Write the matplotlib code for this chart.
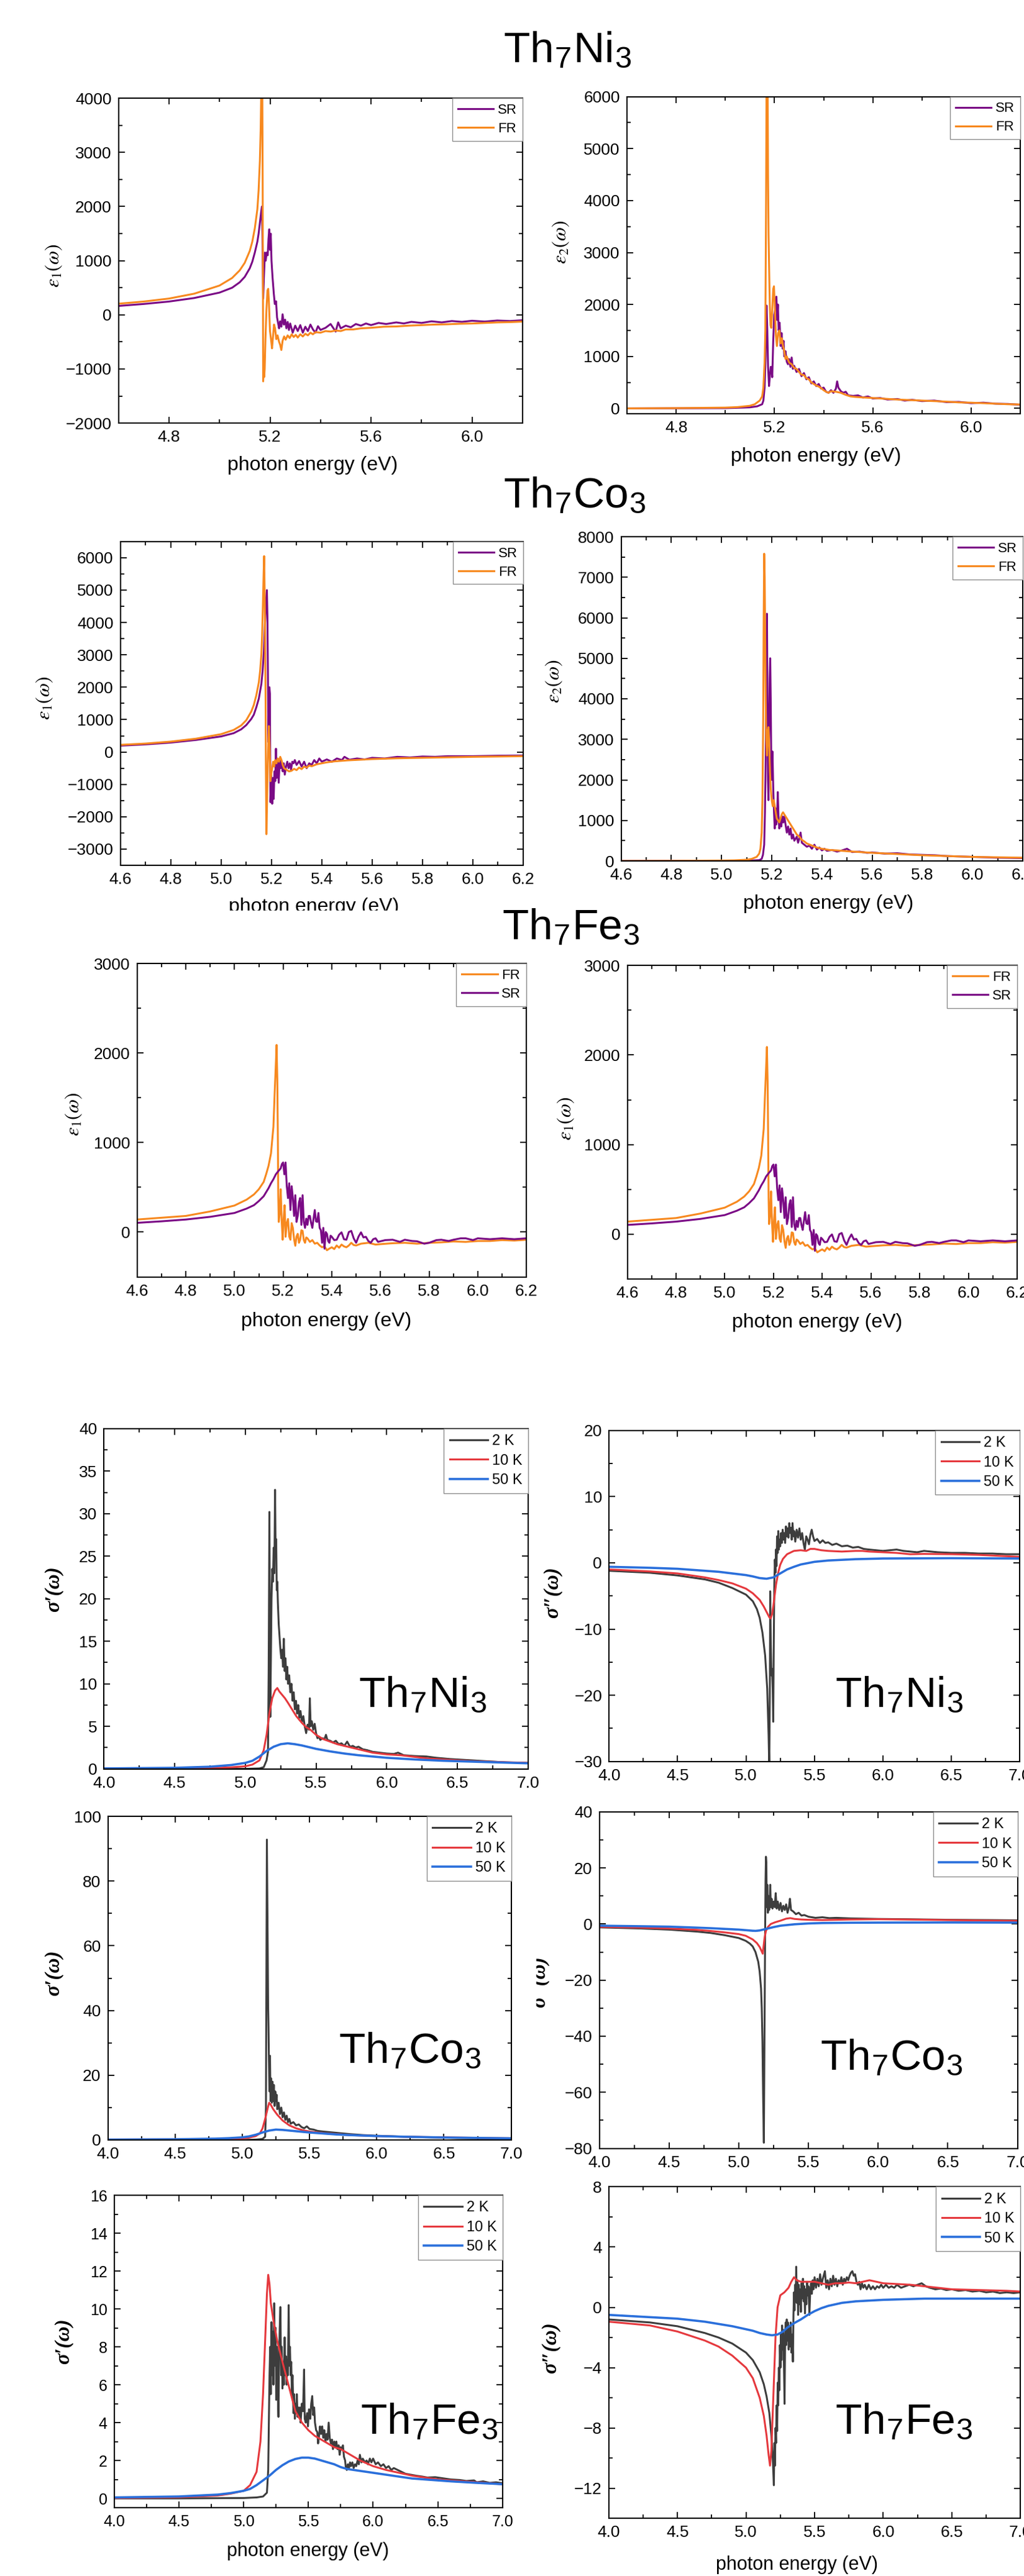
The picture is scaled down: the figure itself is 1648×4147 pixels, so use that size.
import numpy as np
import matplotlib.pyplot as plt
from matplotlib.ticker import MultipleLocator, FormatStrFormatter
from matplotlib.patches import Rectangle

plt.rcParams['font.family'] = ['Liberation Sans', 'DejaVu Sans']
plt.rcParams['mathtext.fontset'] = 'stix'

# ---- data: (photon energy eV, value) ----
ni_e1_sr = [(4.60, 164), (4.70, 200), (4.80, 245), (4.90, 310), (5.00, 410), (5.05, 500), (5.08, 600), (5.10, 700),
            (5.12, 860), (5.13, 980), (5.14, 1150), (5.15, 1350), (5.155, 1500), (5.16, 1700), (5.165, 1900), (5.168, 2000),
            (5.170, 1500), (5.173, 300), (5.176, 700), (5.180, 1150), (5.183, 1000), (5.187, 1150), (5.191, 1100),
            (5.194, 1400), (5.197, 1580), (5.200, 1200), (5.203, 1500), (5.206, 1000), (5.210, 700), (5.215, 400),
            (5.219, 200), (5.224, 250), (5.228, -50), (5.232, -150), (5.236, -250), (5.240, -120), (5.245, -220),
            (5.250, 10), (5.255, -180), (5.26, -90), (5.265, -250), (5.27, -130), (5.275, -280), (5.28, -160),
            (5.29, -330), (5.30, -200), (5.31, -300), (5.32, -190), (5.33, -330), (5.34, -220), (5.35, -300),
            (5.36, -180), (5.37, -270), (5.38, -330), (5.39, -210), (5.40, -280), (5.42, -240), (5.44, -170),
            (5.46, -310), (5.47, -140), (5.48, -250), (5.50, -200), (5.52, -230), (5.54, -170), (5.56, -200),
            (5.58, -160), (5.60, -190), (5.63, -150), (5.66, -170), (5.70, -140), (5.73, -160), (5.76, -130),
            (5.80, -150), (5.84, -120), (5.88, -140), (5.92, -115), (5.96, -130), (6.00, -110), (6.05, -125),
            (6.10, -105), (6.15, -115), (6.20, -100)]
ni_e1_fr = [(4.60, 205), (4.70, 245), (4.80, 300), (4.90, 390), (5.00, 540), (5.05, 680), (5.08, 820), (5.10, 960),
            (5.12, 1180), (5.13, 1350), (5.14, 1600), (5.15, 1950), (5.155, 2300), (5.16, 2850), (5.163, 3400),
            (5.166, 4300), (5.169, 4800), (5.171, 2500), (5.173, -1230), (5.175, -900), (5.177, -1150),
            (5.179, -1000), (5.182, -450), (5.186, 100), (5.190, 450), (5.193, 480), (5.196, 200), (5.200, -300),
            (5.204, -450), (5.208, -620), (5.212, -400), (5.216, -180), (5.220, -250), (5.225, -450), (5.230, -380),
            (5.236, -500), (5.240, -550), (5.245, -650), (5.250, -480), (5.256, -400), (5.262, -460), (5.270, -380),
            (5.278, -430), (5.286, -360), (5.294, -410), (5.302, -370), (5.31, -420), (5.32, -360), (5.33, -400),
            (5.34, -350), (5.35, -380), (5.36, -330), (5.37, -360), (5.38, -320), (5.40, -330), (5.42, -300),
            (5.44, -310), (5.46, -290), (5.48, -300), (5.50, -270), (5.53, -270), (5.56, -250), (5.60, -240),
            (5.65, -220), (5.70, -215), (5.75, -200), (5.80, -190), (5.85, -180), (5.90, -175), (5.95, -165),
            (6.00, -160), (6.05, -150), (6.10, -140), (6.15, -135), (6.20, -125)]

ni_e2_sr = [(4.60, 0), (5.00, 5), (5.10, 20), (5.13, 40), (5.15, 80), (5.155, 150), (5.160, 400), (5.164, 1000),
            (5.168, 1980), (5.171, 1500), (5.174, 800), (5.178, 430), (5.182, 650), (5.185, 800), (5.188, 790),
            (5.191, 600), (5.195, 1300), (5.199, 1800), (5.203, 1900), (5.208, 2150), (5.211, 1700), (5.214, 2000),
            (5.217, 1500), (5.221, 1650), (5.225, 1200), (5.229, 1450), (5.233, 1150), (5.237, 1300), (5.24, 1000),
            (5.245, 1100), (5.25, 900), (5.255, 850), (5.26, 950), (5.265, 800), (5.27, 980), (5.275, 760),
            (5.28, 820), (5.29, 700), (5.30, 760), (5.31, 620), (5.32, 680), (5.33, 560), (5.34, 600), (5.35, 480),
            (5.36, 520), (5.37, 430), (5.38, 470), (5.39, 380), (5.40, 400), (5.41, 320), (5.42, 300), (5.43, 350),
            (5.44, 300), (5.45, 380), (5.455, 520), (5.46, 400), (5.47, 330), (5.48, 300), (5.49, 320), (5.50, 250),
            (5.52, 240), (5.54, 250), (5.56, 210), (5.58, 230), (5.60, 190), (5.63, 200), (5.66, 170), (5.70, 180),
            (5.73, 150), (5.76, 165), (5.80, 140), (5.85, 150), (5.90, 120), (5.95, 125), (6.00, 100), (6.05, 110),
            (6.10, 90), (6.15, 85), (6.20, 70)]
ni_e2_fr = [(4.60, 0), (4.80, 5), (5.00, 15), (5.05, 25), (5.10, 50), (5.12, 80), (5.14, 150), (5.15, 230),
            (5.155, 400), (5.160, 900), (5.163, 1500), (5.166, 4000), (5.168, 6500), (5.172, 6500), (5.174, 4500),
            (5.176, 3350), (5.178, 2800), (5.181, 2000), (5.184, 1600), (5.187, 1550), (5.191, 1900), (5.195, 2300),
            (5.198, 2350), (5.202, 1900), (5.206, 1400), (5.210, 1200), (5.215, 1450), (5.220, 1500), (5.225, 1250),
            (5.230, 1350), (5.235, 1200), (5.240, 1100), (5.245, 950), (5.25, 1000), (5.26, 880), (5.27, 850),
            (5.28, 780), (5.29, 760), (5.30, 700), (5.31, 650), (5.32, 640), (5.33, 580), (5.34, 560), (5.35, 500),
            (5.36, 470), (5.37, 440), (5.38, 420), (5.39, 390), (5.40, 350), (5.41, 320), (5.42, 300), (5.43, 330),
            (5.45, 320), (5.47, 300), (5.49, 260), (5.51, 230), (5.53, 220), (5.56, 210), (5.60, 200), (5.65, 185),
            (5.70, 170), (5.75, 160), (5.80, 150), (5.85, 140), (5.90, 130), (5.95, 115), (6.00, 110), (6.05, 100),
            (6.10, 90), (6.15, 80), (6.20, 75)]

co_e1_sr = [(4.60, 195), (4.70, 235), (4.80, 290), (4.90, 370), (5.00, 480), (5.05, 580), (5.08, 700), (5.10, 830),
            (5.12, 1020), (5.13, 1150), (5.14, 1380), (5.15, 1650), (5.16, 2100), (5.165, 2500), (5.170, 3100),
            (5.174, 3900), (5.178, 4600), (5.182, 5000), (5.184, 4200), (5.186, 2500), (5.188, 300), (5.190, 1500),
            (5.192, 2000), (5.194, 1800), (5.196, -1550), (5.199, -700), (5.203, -1600), (5.206, -800),
            (5.209, -1450), (5.212, -600), (5.215, -900), (5.218, 100), (5.221, -800), (5.225, -300), (5.229, -950),
            (5.233, -200), (5.237, -500), (5.241, -300), (5.245, -600), (5.249, -350), (5.253, -700), (5.258, -450),
            (5.263, -300), (5.268, -500), (5.273, -350), (5.278, -550), (5.283, -300), (5.288, -350), (5.293, -250),
            (5.30, -400), (5.31, -280), (5.32, -450), (5.33, -300), (5.34, -500), (5.35, -350), (5.36, -400),
            (5.37, -250), (5.38, -350), (5.39, -200), (5.40, -300), (5.42, -230), (5.44, -300), (5.46, -200),
            (5.48, -250), (5.49, -150), (5.51, -240), (5.54, -200), (5.57, -230), (5.60, -180), (5.65, -200),
            (5.70, -150), (5.75, -170), (5.80, -140), (5.85, -150), (5.90, -130), (6.00, -130), (6.10, -115),
            (6.20, -110)]
co_e1_fr = [(4.60, 220), (4.70, 260), (4.80, 320), (4.90, 410), (5.00, 550), (5.05, 680), (5.08, 820), (5.10, 980),
            (5.12, 1250), (5.13, 1450), (5.14, 1750), (5.15, 2150), (5.155, 2500), (5.16, 3000), (5.163, 3600),
            (5.166, 4500), (5.169, 5500), (5.171, 6050), (5.173, 5000), (5.175, 3500), (5.177, 1500), (5.178, -500),
            (5.180, -2540), (5.182, -1800), (5.185, -600), (5.188, 400), (5.190, 800), (5.193, 100), (5.196, -900),
            (5.199, -700), (5.203, -500), (5.207, -300), (5.211, -450), (5.215, -250), (5.22, -350), (5.225, -200),
            (5.23, -300), (5.235, -150), (5.24, -250), (5.245, -400), (5.25, -500), (5.26, -550), (5.27, -600),
            (5.28, -580), (5.29, -520), (5.30, -560), (5.31, -480), (5.32, -530), (5.33, -450), (5.34, -480),
            (5.35, -420), (5.36, -440), (5.38, -380), (5.40, -350), (5.42, -320), (5.45, -290), (5.50, -260),
            (5.55, -240), (5.60, -220), (5.70, -195), (5.80, -180), (5.90, -165), (6.00, -150), (6.10, -140),
            (6.20, -130)]

co_e2_sr = [(4.60, 0), (5.10, 5), (5.15, 20), (5.160, 50), (5.165, 150), (5.170, 400), (5.173, 1200),
            (5.176, 2500), (5.178, 4200), (5.181, 6100), (5.183, 4000), (5.185, 2000), (5.187, 1500), (5.189, 3000),
            (5.192, 4500), (5.194, 5000), (5.196, 4000), (5.198, 2600), (5.200, 2000), (5.203, 2700), (5.206, 1800),
            (5.209, 1200), (5.212, 800), (5.215, 1300), (5.218, 900), (5.221, 1000), (5.224, 1700), (5.227, 1100),
            (5.23, 800), (5.234, 1000), (5.238, 850), (5.242, 1100), (5.246, 950), (5.25, 1100), (5.255, 900),
            (5.26, 700), (5.265, 850), (5.27, 650), (5.275, 800), (5.28, 550), (5.285, 650), (5.29, 500),
            (5.30, 600), (5.305, 450), (5.31, 550), (5.315, 700), (5.32, 450), (5.33, 400), (5.34, 350),
            (5.35, 380), (5.36, 300), (5.37, 400), (5.38, 280), (5.39, 330), (5.40, 260), (5.41, 300), (5.42, 250),
            (5.44, 270), (5.46, 230), (5.48, 260), (5.50, 300), (5.52, 220), (5.55, 230), (5.58, 200), (5.60, 210),
            (5.65, 180), (5.70, 190), (5.75, 160), (5.80, 150), (5.85, 140), (5.90, 120), (6.00, 100), (6.10, 80),
            (6.20, 70)]
co_e2_fr = [(4.60, 0), (4.80, 3), (5.00, 10), (5.05, 15), (5.10, 30), (5.12, 50), (5.14, 100), (5.15, 180),
            (5.155, 300), (5.160, 700), (5.163, 1500), (5.166, 3500), (5.168, 6000), (5.170, 7580), (5.172, 7000),
            (5.174, 5500), (5.176, 4000), (5.178, 3000), (5.181, 2600), (5.184, 3200), (5.187, 3300), (5.190, 2800),
            (5.193, 2200), (5.196, 1800), (5.200, 1500), (5.204, 1350), (5.208, 1500), (5.212, 1350), (5.216, 1200),
            (5.22, 1050), (5.225, 1000), (5.23, 950), (5.235, 1050), (5.24, 1150), (5.245, 1200), (5.25, 1150),
            (5.26, 1050), (5.27, 950), (5.28, 850), (5.29, 750), (5.30, 650), (5.31, 600), (5.32, 520), (5.33, 480),
            (5.34, 430), (5.36, 380), (5.38, 330), (5.40, 300), (5.43, 270), (5.46, 260), (5.50, 240), (5.55, 220),
            (5.60, 200), (5.65, 185), (5.70, 170), (5.75, 155), (5.80, 140), (5.85, 130), (5.90, 120), (5.95, 110),
            (6.00, 100), (6.10, 90), (6.20, 80)]

fe_e1_fr = [(4.60, 140), (4.70, 160), (4.80, 180), (4.90, 230), (5.00, 296), (5.05, 362), (5.08, 420), (5.10, 478),
            (5.12, 560), (5.13, 645), (5.14, 740), (5.15, 877), (5.16, 1176), (5.165, 1541), (5.170, 1874),
            (5.173, 2090), (5.176, 1708), (5.178, 1140), (5.180, 400), (5.182, 113), (5.186, 213), (5.190, 478),
            (5.194, 130), (5.198, -86), (5.202, 150), (5.206, 300), (5.210, -53), (5.215, 100), (5.220, 146),
            (5.225, -50), (5.230, -86), (5.235, 100), (5.240, 47), (5.245, -80), (5.250, -153), (5.255, -50),
            (5.260, -20), (5.265, -120), (5.270, -86), (5.275, 20), (5.280, 13), (5.285, -90), (5.290, -120),
            (5.295, -60), (5.30, -70), (5.31, -110), (5.32, -90), (5.33, -130), (5.34, -120), (5.35, -150),
            (5.36, -170), (5.37, -160), (5.38, -203), (5.39, -185), (5.40, -170), (5.41, -190), (5.42, -150),
            (5.43, -175), (5.44, -140), (5.45, -160), (5.46, -170), (5.47, -150), (5.48, -120), (5.49, -145),
            (5.50, -150), (5.52, -130), (5.55, -120), (5.58, -140), (5.60, -135), (5.65, -125), (5.70, -120),
            (5.75, -130), (5.80, -120), (5.85, -115), (5.90, -105), (5.95, -110), (6.00, -100), (6.05, -100),
            (6.10, -90), (6.15, -95), (6.20, -86)]
fe_e1_sr = [(4.60, 103), (4.70, 120), (4.80, 140), (4.90, 170), (5.00, 213), (5.05, 262), (5.08, 300), (5.10, 346),
            (5.12, 400), (5.13, 445), (5.14, 490), (5.15, 545), (5.16, 590), (5.17, 645), (5.18, 680), (5.19, 711),
            (5.195, 760), (5.200, 777), (5.205, 645), (5.210, 777), (5.215, 512), (5.220, 379), (5.225, 545),
            (5.230, 246), (5.235, 512), (5.240, 380), (5.245, 180), (5.250, 412), (5.255, 113), (5.260, 180),
            (5.265, 330), (5.270, 380), (5.275, 80), (5.280, 412), (5.285, 113), (5.290, 47), (5.295, 150),
            (5.30, 80), (5.305, 180), (5.31, 180), (5.315, 100), (5.32, 47), (5.325, 150), (5.33, 246), (5.335, 120),
            (5.34, 113), (5.345, 213), (5.35, 47), (5.355, 20), (5.36, -120), (5.365, 47), (5.37, -186),
            (5.375, 0), (5.38, -20), (5.385, -100), (5.39, -120), (5.395, -40), (5.40, -53), (5.41, -90),
            (5.42, -86), (5.43, -30), (5.44, -3), (5.45, -80), (5.46, -86), (5.47, 0), (5.48, 13), (5.49, -70),
            (5.50, -120), (5.51, -50), (5.52, -3), (5.53, -60), (5.54, -53), (5.55, -100), (5.56, -120), (5.57, -80),
            (5.58, -70), (5.59, -110), (5.60, -103), (5.62, -90), (5.65, -86), (5.68, -110), (5.70, -86),
            (5.73, -100), (5.75, -103), (5.78, -130), (5.80, -120), (5.83, -90), (5.85, -86), (5.88, -100),
            (5.90, -86), (5.93, -70), (5.95, -70), (5.98, -90), (6.00, -70), (6.05, -80), (6.10, -70), (6.15, -80),
            (6.20, -70)]

ni_s1_2k = [(4.00, 0.0), (4.50, 0.0), (5.00, 0.0), (5.10, 0.05), (5.13, 0.2), (5.15, 1.0), (5.16, 2.0),
            (5.165, 12.0), (5.170, 30.2), (5.173, 18.0), (5.176, 6.1), (5.180, 12.0), (5.185, 20.0), (5.190, 23.5),
            (5.195, 22.0), (5.200, 26.0), (5.205, 23.0), (5.210, 32.8), (5.214, 25.0), (5.218, 27.0), (5.222, 21.0),
            (5.226, 22.0), (5.230, 19.5), (5.236, 17.0), (5.242, 15.5), (5.248, 14.0), (5.254, 13.0), (5.260, 14.0),
            (5.266, 12.0), (5.272, 15.3), (5.278, 11.5), (5.284, 13.0), (5.29, 10.5), (5.296, 12.0), (5.302, 10.0),
            (5.31, 11.0), (5.318, 9.0), (5.326, 10.0), (5.334, 8.0), (5.342, 9.0), (5.35, 7.0), (5.358, 8.0),
            (5.366, 6.5), (5.374, 7.5), (5.382, 6.0), (5.39, 6.8), (5.40, 5.5), (5.41, 6.2), (5.42, 5.0),
            (5.43, 4.2), (5.44, 5.2), (5.45, 4.6), (5.456, 8.3), (5.462, 5.0), (5.47, 5.6), (5.48, 4.6), (5.49, 5.3),
            (5.50, 4.2), (5.51, 3.6), (5.52, 3.8), (5.53, 3.4), (5.545, 3.6), (5.56, 3.5), (5.57, 4.0), (5.58, 3.4),
            (5.60, 3.3), (5.62, 3.1), (5.64, 3.3), (5.66, 2.9), (5.68, 3.0), (5.70, 2.7), (5.72, 3.2), (5.74, 2.6),
            (5.76, 2.7), (5.78, 2.5), (5.80, 2.6), (5.83, 2.3), (5.86, 2.2), (5.90, 2.0), (5.95, 1.9), (6.00, 1.8),
            (6.05, 1.75), (6.08, 1.9), (6.12, 1.6), (6.20, 1.5), (6.28, 1.45), (6.35, 1.3), (6.45, 1.15),
            (6.55, 1.05), (6.65, 0.95), (6.75, 0.85), (6.85, 0.75), (7.00, 0.7)]
ni_s1_10k = [(4.00, 0.05), (4.50, 0.08), (4.80, 0.12), (4.90, 0.18), (5.00, 0.3), (5.05, 0.5), (5.10, 1.0),
             (5.13, 2.2), (5.15, 4.0), (5.17, 6.5), (5.19, 8.3), (5.21, 9.2), (5.226, 9.5), (5.24, 9.1), (5.26, 8.7),
             (5.28, 8.3), (5.30, 7.8), (5.33, 7.0), (5.36, 6.2), (5.40, 5.4), (5.43, 4.9), (5.46, 4.6), (5.50, 4.0),
             (5.55, 3.5), (5.60, 3.2), (5.65, 2.9), (5.70, 2.7), (5.75, 2.5), (5.80, 2.3), (5.85, 2.1), (5.90, 1.9),
             (6.00, 1.7), (6.10, 1.6), (6.20, 1.4), (6.30, 1.2), (6.40, 1.1), (6.50, 1.0), (6.60, 0.9), (6.80, 0.8),
             (7.00, 0.7)]
ni_s1_50k = [(4.00, 0.05), (4.50, 0.12), (4.75, 0.25), (4.90, 0.45), (5.00, 0.7), (5.05, 0.95), (5.10, 1.45),
             (5.15, 2.1), (5.20, 2.6), (5.25, 2.9), (5.30, 3.0), (5.35, 2.9), (5.40, 2.75), (5.50, 2.35),
             (5.60, 2.05), (5.70, 1.8), (5.80, 1.6), (6.00, 1.3), (6.20, 1.1), (6.40, 0.95), (6.60, 0.85),
             (6.80, 0.75), (7.00, 0.65)]

ni_s2_2k = [(4.00, -1.2), (4.30, -1.5), (4.50, -1.9), (4.70, -2.5), (4.80, -3.0), (4.90, -3.8), (5.00, -4.8),
            (5.05, -5.8), (5.08, -7.0), (5.10, -8.3), (5.12, -10.5), (5.14, -14.0), (5.155, -19.0), (5.165, -26.0),
            (5.170, -31.0), (5.174, -20.0), (5.177, -4.3), (5.181, -12.0), (5.186, -17.0), (5.190, -16.0),
            (5.195, -19.0), (5.199, -24.0), (5.203, -12.0), (5.207, -3.0), (5.211, 0.5), (5.215, -1.5),
            (5.219, 2.0), (5.223, -0.5), (5.227, 4.0), (5.232, 1.5), (5.236, 4.8), (5.24, 2.0), (5.245, 3.5),
            (5.25, 2.5), (5.256, 4.5), (5.262, 3.0), (5.268, 5.0), (5.274, 3.5), (5.28, 4.5), (5.286, 3.0),
            (5.292, 5.5), (5.298, 4.0), (5.304, 5.2), (5.31, 3.8), (5.316, 6.0), (5.322, 4.5), (5.328, 5.3),
            (5.334, 3.5), (5.34, 6.0), (5.346, 4.0), (5.352, 4.8), (5.36, 3.2), (5.37, 5.0), (5.38, 3.8),
            (5.39, 5.2), (5.40, 3.5), (5.41, 4.5), (5.42, 3.0), (5.43, 2.0), (5.44, 4.0), (5.45, 3.5), (5.46, 2.8),
            (5.47, 4.2), (5.48, 5.0), (5.49, 4.0), (5.50, 3.3), (5.52, 3.6), (5.54, 3.0), (5.56, 3.4), (5.58, 3.0),
            (5.60, 3.1), (5.63, 2.7), (5.66, 2.9), (5.70, 2.5), (5.74, 2.6), (5.78, 2.3), (5.82, 2.4), (5.86, 2.1),
            (5.90, 2.0), (5.95, 1.9), (6.00, 1.8), (6.05, 1.9), (6.10, 2.0), (6.15, 1.8), (6.20, 1.7), (6.25, 1.6),
            (6.30, 1.8), (6.40, 1.6), (6.50, 1.5), (6.60, 1.5), (6.70, 1.4), (6.80, 1.4), (6.90, 1.3), (7.00, 1.3)]
ni_s2_10k = [(4.00, -1.0), (4.30, -1.3), (4.50, -1.6), (4.70, -2.2), (4.80, -2.6), (4.90, -3.1), (5.00, -3.9),
             (5.05, -4.6), (5.10, -5.6), (5.13, -6.6), (5.15, -7.4), (5.17, -8.2), (5.18, -8.4), (5.19, -7.8),
             (5.20, -6.5), (5.21, -4.8), (5.22, -3.2), (5.235, -1.5), (5.25, -0.3), (5.27, 0.6), (5.30, 1.3),
             (5.35, 1.8), (5.40, 1.9), (5.44, 1.8), (5.47, 2.1), (5.50, 2.1), (5.55, 1.9), (5.60, 1.8), (5.70, 1.7),
             (5.80, 1.8), (5.85, 1.8), (5.90, 1.7), (6.00, 1.6), (6.10, 1.5), (6.20, 1.3), (6.30, 1.35), (6.50, 1.3),
             (6.70, 1.2), (6.90, 1.0), (7.00, 0.9)]
ni_s2_50k = [(4.00, -0.6), (4.30, -0.75), (4.50, -0.9), (4.70, -1.2), (4.80, -1.35), (4.90, -1.6), (5.00, -1.85),
             (5.05, -2.05), (5.10, -2.3), (5.15, -2.4), (5.20, -2.2), (5.25, -1.6), (5.30, -1.0), (5.35, -0.6),
             (5.40, -0.25), (5.50, 0.15), (5.60, 0.35), (5.70, 0.45), (5.80, 0.55), (6.00, 0.65), (6.50, 0.7),
             (7.00, 0.65)]

co_s1_2k = [(4.00, 0.0), (5.00, 0.0), (5.10, 0.1), (5.15, 0.3), (5.17, 1.0), (5.176, 10.0), (5.180, 60.0),
            (5.183, 92.8), (5.186, 76.0), (5.189, 60.0), (5.192, 42.0), (5.195, 35.0), (5.198, 25.0), (5.202, 15.0),
            (5.206, 26.0), (5.21, 12.0), (5.215, 19.0), (5.22, 11.5), (5.225, 18.0), (5.23, 12.0), (5.235, 17.0),
            (5.24, 10.5), (5.245, 15.0), (5.25, 12.0), (5.255, 14.0), (5.26, 9.5), (5.27, 11.5), (5.28, 8.0),
            (5.29, 10.0), (5.30, 7.0), (5.31, 8.5), (5.32, 6.2), (5.33, 7.5), (5.34, 5.5), (5.35, 6.5), (5.36, 5.0),
            (5.38, 5.5), (5.40, 4.5), (5.42, 4.8), (5.44, 4.0), (5.46, 3.6), (5.48, 4.2), (5.50, 3.4), (5.53, 3.2),
            (5.56, 2.8), (5.60, 2.6), (5.65, 2.4), (5.70, 2.2), (5.75, 2.0), (5.80, 1.8), (5.90, 1.5), (6.00, 1.3),
            (6.20, 1.0), (6.40, 0.8), (6.60, 0.6), (6.80, 0.5), (7.00, 0.4)]
co_s1_10k = [(4.00, 0.1), (4.50, 0.15), (4.80, 0.25), (5.00, 0.45), (5.05, 0.7), (5.10, 1.2), (5.13, 2.0),
             (5.15, 3.5), (5.17, 6.5), (5.19, 10.0), (5.20, 11.5), (5.21, 11.0), (5.23, 9.5), (5.26, 7.8),
             (5.30, 6.0), (5.35, 4.5), (5.40, 3.6), (5.45, 3.0), (5.50, 2.6), (5.60, 2.1), (5.70, 1.8), (5.80, 1.5),
             (6.00, 1.2), (6.20, 1.0), (6.50, 0.8), (7.00, 0.5)]
co_s1_50k = [(4.00, 0.1), (4.50, 0.2), (4.80, 0.4), (4.90, 0.55), (5.00, 0.8), (5.05, 1.1), (5.10, 1.6),
             (5.15, 2.3), (5.20, 2.9), (5.25, 3.2), (5.30, 3.1), (5.40, 2.7), (5.50, 2.3), (5.60, 2.0), (5.70, 1.7),
             (5.80, 1.5), (6.00, 1.2), (6.20, 1.0), (6.50, 0.75), (7.00, 0.5)]

co_s2_2k = [(4.00, -1.2), (4.30, -1.6), (4.50, -2.0), (4.70, -2.7), (4.80, -3.2), (4.90, -4.0), (5.00, -5.0),
            (5.05, -6.0), (5.08, -7.0), (5.10, -8.0), (5.12, -10.0), (5.14, -13.5), (5.15, -17.0), (5.16, -23.0),
            (5.165, -30.0), (5.170, -42.0), (5.175, -62.0), (5.180, -78.0), (5.183, -55.0), (5.186, -29.0),
            (5.189, -5.0), (5.192, 15.0), (5.195, 24.0), (5.198, 22.0), (5.201, 6.0), (5.205, 14.0), (5.209, 4.0),
            (5.213, 10.0), (5.218, 5.0), (5.222, 8.0), (5.226, 14.0), (5.230, 6.0), (5.236, 9.0), (5.242, 5.5),
            (5.25, 8.0), (5.258, 6.0), (5.265, 11.0), (5.272, 5.5), (5.28, 8.0), (5.29, 5.0), (5.30, 7.5),
            (5.31, 4.5), (5.32, 6.5), (5.33, 5.0), (5.34, 7.0), (5.35, 4.0), (5.36, 6.0), (5.367, 9.0),
            (5.375, 5.0), (5.39, 4.5), (5.41, 3.5), (5.43, 4.0), (5.45, 3.0), (5.47, 3.2), (5.50, 2.6), (5.55, 2.2),
            (5.60, 2.4), (5.65, 2.1), (5.70, 2.2), (5.80, 2.0), (5.90, 1.9), (6.00, 1.8), (6.20, 1.7), (6.50, 1.5),
            (6.80, 1.4), (7.00, 1.3)]
co_s2_10k = [(4.00, -1.0), (4.30, -1.3), (4.50, -1.6), (4.70, -2.1), (4.80, -2.5), (4.90, -3.0), (5.00, -3.6),
             (5.05, -4.2), (5.10, -5.5), (5.13, -6.8), (5.15, -8.2), (5.165, -9.8), (5.172, -10.6), (5.178, -8.0),
             (5.185, -5.0), (5.195, -2.5), (5.21, -1.0), (5.23, 0.0), (5.26, 0.6), (5.30, 1.2), (5.34, 1.9),
             (5.37, 2.1), (5.40, 1.8), (5.45, 1.6), (5.50, 1.5), (5.60, 1.4), (5.70, 1.5), (5.80, 1.6), (6.00, 1.7),
             (6.20, 1.6), (6.50, 1.4), (7.00, 1.1)]
co_s2_50k = [(4.00, -0.6), (4.30, -0.8), (4.50, -0.95), (4.70, -1.3), (4.80, -1.5), (4.90, -1.75), (5.00, -2.0),
             (5.05, -2.2), (5.10, -2.4), (5.12, -2.45), (5.15, -2.3), (5.20, -1.7), (5.25, -1.1), (5.30, -0.6),
             (5.40, -0.1), (5.50, 0.2), (5.60, 0.35), (5.80, 0.45), (6.00, 0.5), (6.50, 0.55), (7.00, 0.5)]

fe_s1_2k = [(4.00, 0.0), (4.50, 0.0), (5.00, 0.02), (5.10, 0.05), (5.15, 0.1), (5.18, 0.3), (5.19, 1.5),
            (5.195, 4.0), (5.200, 6.5), (5.205, 8.0), (5.21, 5.5), (5.215, 9.3), (5.22, 6.5), (5.225, 8.8),
            (5.23, 6.0), (5.236, 10.3), (5.242, 7.0), (5.247, 9.0), (5.252, 5.2), (5.258, 8.0), (5.263, 6.0),
            (5.269, 4.3), (5.274, 7.5), (5.279, 9.0), (5.284, 10.1), (5.29, 6.5), (5.295, 8.0), (5.30, 5.8),
            (5.306, 7.2), (5.311, 6.0), (5.317, 8.5), (5.322, 6.5), (5.327, 7.5), (5.332, 6.0), (5.337, 7.3),
            (5.342, 6.5), (5.348, 10.2), (5.353, 7.0), (5.358, 8.0), (5.363, 6.5), (5.368, 7.2), (5.373, 5.5),
            (5.378, 6.5), (5.385, 4.5), (5.39, 5.5), (5.396, 4.2), (5.40, 5.0), (5.406, 4.5), (5.411, 5.5),
            (5.417, 4.3), (5.422, 4.8), (5.429, 4.3), (5.435, 4.8), (5.44, 4.0), (5.45, 5.0), (5.459, 4.6),
            (5.467, 6.8), (5.472, 4.2), (5.48, 4.0), (5.49, 4.5), (5.497, 3.8), (5.505, 4.7), (5.515, 4.2),
            (5.522, 5.0), (5.53, 5.4), (5.537, 4.4), (5.545, 4.8), (5.551, 4.0), (5.56, 3.6), (5.569, 3.5),
            (5.575, 2.9), (5.581, 3.2), (5.59, 3.8), (5.598, 3.4), (5.607, 3.8), (5.615, 3.2), (5.623, 3.6),
            (5.632, 3.0), (5.64, 3.4), (5.648, 3.1), (5.657, 4.0), (5.665, 3.2), (5.674, 2.9), (5.683, 3.1),
            (5.69, 2.6), (5.70, 3.0), (5.708, 2.7), (5.716, 3.0), (5.725, 2.6), (5.734, 2.8), (5.742, 2.3),
            (5.75, 2.7), (5.759, 2.6), (5.767, 2.8), (5.775, 2.2), (5.784, 2.0), (5.79, 1.6), (5.797, 1.5),
            (5.805, 1.8), (5.814, 1.6), (5.822, 1.9), (5.83, 1.7), (5.84, 1.9), (5.85, 1.6), (5.86, 1.8),
            (5.87, 1.7), (5.88, 2.0), (5.89, 1.8), (5.898, 2.3), (5.91, 1.9), (5.92, 2.1), (5.937, 1.9),
            (5.95, 2.0), (5.96, 1.8), (5.975, 2.1), (5.987, 1.9), (6.00, 2.1), (6.02, 1.8), (6.038, 1.9),
            (6.06, 1.7), (6.08, 1.8), (6.10, 1.6), (6.12, 1.7), (6.14, 1.5), (6.16, 1.6), (6.19, 1.5), (6.22, 1.4),
            (6.25, 1.3), (6.29, 1.25), (6.33, 1.2), (6.38, 1.15), (6.42, 1.1), (6.48, 1.12), (6.55, 1.05),
            (6.60, 1.0), (6.67, 0.97), (6.72, 0.92), (6.78, 0.95), (6.80, 0.85), (6.85, 0.9), (6.90, 0.82),
            (6.95, 0.85), (7.00, 0.8)]
fe_s1_10k = [(4.00, 0.02), (4.50, 0.06), (4.80, 0.15), (4.90, 0.25), (5.00, 0.4), (5.05, 0.7), (5.10, 1.4),
             (5.13, 3.0), (5.15, 5.5), (5.17, 9.0), (5.18, 10.8), (5.19, 11.8), (5.20, 11.3), (5.21, 10.3),
             (5.23, 9.4), (5.26, 8.3), (5.30, 7.2), (5.35, 5.9), (5.40, 4.6), (5.45, 4.0), (5.50, 3.6), (5.55, 3.3),
             (5.60, 3.1), (5.65, 2.9), (5.70, 2.7), (5.75, 2.6), (5.80, 2.4), (5.85, 2.2), (5.90, 2.0), (5.95, 1.85),
             (6.00, 1.7), (6.05, 1.6), (6.10, 1.5), (6.20, 1.35), (6.30, 1.2), (6.40, 1.1), (6.50, 1.0),
             (6.60, 0.95), (6.70, 0.9), (6.80, 0.85), (7.00, 0.75)]
fe_s1_50k = [(4.00, 0.05), (4.50, 0.1), (4.80, 0.2), (4.90, 0.28), (5.00, 0.4), (5.05, 0.5), (5.10, 0.7),
             (5.15, 0.95), (5.20, 1.2), (5.25, 1.5), (5.30, 1.75), (5.35, 1.95), (5.40, 2.08), (5.45, 2.15),
             (5.50, 2.15), (5.55, 2.1), (5.60, 2.0), (5.65, 1.9), (5.70, 1.8), (5.75, 1.65), (5.80, 1.55),
             (5.90, 1.45), (6.00, 1.35), (6.10, 1.25), (6.20, 1.15), (6.30, 1.05), (6.40, 1.0), (6.60, 0.9),
             (6.80, 0.82), (7.00, 0.75)]

fe_s2_2k = [(4.00, -0.8), (4.30, -1.0), (4.50, -1.25), (4.70, -1.7), (4.80, -2.0), (4.90, -2.4), (5.00, -3.0),
            (5.05, -3.5), (5.10, -4.3), (5.13, -5.1), (5.15, -5.9), (5.17, -7.0), (5.185, -8.5), (5.195, -10.0),
            (5.203, -11.8), (5.207, -9.0), (5.211, -10.5), (5.215, -8.0), (5.219, -9.0), (5.223, -6.5),
            (5.227, -8.2), (5.231, -5.0), (5.235, -6.5), (5.239, -4.0), (5.243, -5.5), (5.247, -2.5), (5.251, -4.0),
            (5.255, -1.8), (5.259, -3.5), (5.263, -1.2), (5.267, -2.8), (5.271, -1.5), (5.275, -3.0), (5.281, -6.4),
            (5.285, -2.0), (5.289, -1.0), (5.293, -2.5), (5.297, -0.8), (5.301, -2.2), (5.306, -1.0), (5.311, -2.8),
            (5.316, -1.3), (5.321, -2.6), (5.326, -1.0), (5.331, -3.0), (5.336, -1.8), (5.342, -3.6), (5.346, -0.5),
            (5.350, 1.0), (5.354, -0.2), (5.358, 1.5), (5.362, 0.5), (5.366, 2.7), (5.370, 0.3), (5.375, 1.8),
            (5.380, -0.5), (5.385, 1.5), (5.390, 0.2), (5.395, 1.2), (5.400, -0.3), (5.405, 1.6), (5.410, 0.6),
            (5.415, 1.9), (5.420, 0.4), (5.425, 1.4), (5.430, -0.4), (5.435, 1.2), (5.440, 0.2), (5.445, 1.7),
            (5.450, 0.8), (5.455, 1.4), (5.462, -0.5), (5.468, 1.0), (5.474, 1.6), (5.48, 0.9), (5.486, 1.8),
            (5.492, 1.2), (5.50, 2.0), (5.51, 1.3), (5.52, 1.9), (5.53, 1.4), (5.54, 2.2), (5.55, 1.5), (5.56, 1.9),
            (5.575, 2.4), (5.585, 1.3), (5.595, 1.8), (5.605, 1.2), (5.615, 1.9), (5.625, 1.4), (5.635, 2.1),
            (5.645, 1.5), (5.655, 1.9), (5.665, 1.4), (5.675, 1.8), (5.685, 1.6), (5.695, 2.0), (5.705, 1.5),
            (5.715, 1.9), (5.725, 1.7), (5.735, 2.0), (5.745, 1.8), (5.755, 2.1), (5.765, 2.3), (5.775, 2.4),
            (5.785, 2.1), (5.795, 2.2), (5.805, 1.7), (5.815, 1.5), (5.825, 1.7), (5.835, 1.2), (5.845, 1.6),
            (5.855, 1.3), (5.865, 1.5), (5.88, 1.2), (5.895, 1.5), (5.91, 1.2), (5.925, 1.4), (5.94, 1.2),
            (5.955, 1.4), (5.97, 1.3), (5.985, 1.5), (6.00, 1.3), (6.02, 1.5), (6.04, 1.3), (6.06, 1.4),
            (6.08, 1.3), (6.10, 1.5), (6.13, 1.3), (6.16, 1.4), (6.19, 1.5), (6.22, 1.4), (6.25, 1.5), (6.28, 1.6),
            (6.31, 1.4), (6.34, 1.3), (6.38, 1.2), (6.42, 1.25), (6.46, 1.15), (6.50, 1.2), (6.55, 1.1),
            (6.60, 1.15), (6.65, 1.05), (6.70, 1.1), (6.75, 1.0), (6.80, 1.05), (6.85, 0.95), (6.90, 1.0),
            (6.95, 0.95), (7.00, 1.0)]
fe_s2_10k = [(4.00, -0.95), (4.30, -1.2), (4.50, -1.6), (4.70, -2.2), (4.80, -2.6), (4.90, -3.2), (5.00, -4.0),
             (5.05, -4.7), (5.10, -6.0), (5.13, -7.2), (5.15, -8.5), (5.165, -9.8), (5.175, -10.5), (5.185, -9.5),
             (5.195, -7.0), (5.205, -4.5), (5.215, -2.0), (5.23, 0.0), (5.25, 0.8), (5.28, 1.0), (5.31, 1.3),
             (5.33, 1.7), (5.35, 2.0), (5.37, 1.8), (5.40, 1.7), (5.45, 1.7), (5.50, 1.7), (5.55, 1.6), (5.60, 1.5),
             (5.65, 1.6), (5.70, 1.6), (5.75, 1.65), (5.80, 1.6), (5.85, 1.7), (5.90, 1.8), (5.95, 1.7), (6.00, 1.6),
             (6.10, 1.55), (6.20, 1.5), (6.30, 1.4), (6.40, 1.3), (6.50, 1.2), (6.70, 1.15), (6.90, 1.1),
             (7.00, 1.05)]
fe_s2_50k = [(4.00, -0.5), (4.30, -0.65), (4.50, -0.75), (4.70, -0.95), (4.80, -1.1), (4.90, -1.25),
             (5.00, -1.45), (5.05, -1.55), (5.10, -1.7), (5.15, -1.8), (5.19, -1.85), (5.23, -1.8), (5.27, -1.6),
             (5.30, -1.35), (5.35, -1.05), (5.40, -0.8), (5.45, -0.5), (5.50, -0.25), (5.55, -0.05), (5.60, 0.1),
             (5.70, 0.3), (5.80, 0.4), (6.00, 0.5), (6.30, 0.58), (6.60, 0.58), (7.00, 0.58)]

temps = ['2 K', '10 K', '50 K']
purple, orange = '#7a0a85', '#f7891f'
tcolors = ['#3d3d3d', '#e5383d', '#2a6fdb']

# ---- figure in pixel coordinates ----
W, H = 1648, 4147
fig = plt.figure(figsize=(W / 100, H / 100), dpi=100)


def rect(l, t, r, b):
    return [l / W, 1 - b / H, (r - l) / W, (b - t) / H]


def put(x, y, s, **kw):
    fig.text(x / W, 1 - y / H, s, **kw)


def frame(box, xlim, ylim, xstep, ystep, fs=19):
    ax = fig.add_axes(rect(*box))
    ax.set_xlim(*xlim)
    ax.set_ylim(*ylim)
    ax.xaxis.set_major_locator(MultipleLocator(xstep))
    ax.xaxis.set_minor_locator(MultipleLocator(xstep / 2))
    ax.yaxis.set_major_locator(MultipleLocator(ystep))
    ax.yaxis.set_minor_locator(MultipleLocator(ystep / 2))
    ax.xaxis.set_major_formatter(FormatStrFormatter('%.1f'))
    ax.tick_params(which='both', direction='in', top=True, right=True, width=1.3, labelsize=fs, pad=8)
    ax.tick_params(which='major', length=7)
    ax.tick_params(which='minor', length=4)
    for s in ax.spines.values():
        s.set_linewidth(1.5)
    return ax


def draw(ax, series, labels, colors, fs=16, widths=None):
    widths = widths or [2.2] * len(series)
    for pts, lab, c, lw in zip(series, labels, colors, widths):
        x, y = np.array(pts).T
        ax.plot(x, y, color=c, lw=lw, label=lab)
    ax.legend(loc='upper right', borderaxespad=0, fancybox=False, edgecolor='#8c8c8c', framealpha=1,
              fontsize=fs, handlelength=2.6, handletextpad=0.3, borderpad=0.4, labelspacing=0.4)


eps1 = r'$\varepsilon_{\mathit{1}}(\omega)$'
eps2 = r'$\varepsilon_{\mathit{2}}(\omega)$'
xlab = 'photon energy (eV)'
serif = ['Liberation Serif', 'DejaVu Serif']

# top block: dielectric function
ax = frame((190.6, 158.2, 841, 681.1), (4.6, 6.2), (-2000, 4000), 0.4, 1000)
draw(ax, [ni_e1_sr, ni_e1_fr], ['SR', 'FR'], [purple, orange])
ax = frame((1009, 155.6, 1642, 665.8), (4.6, 6.2), (-100, 6000), 0.4, 1000)
draw(ax, [ni_e2_sr, ni_e2_fr], ['SR', 'FR'], [purple, orange])
ax = frame((193.7, 871.8, 842, 1393), (4.6, 6.2), (-3500, 6500), 0.2, 1000)
draw(ax, [co_e1_sr, co_e1_fr], ['SR', 'FR'], [purple, orange])
ax = frame((999.6, 864, 1646, 1386), (4.6, 6.2), (0, 8000), 0.2, 1000)
draw(ax, [co_e2_sr, co_e2_fr], ['SR', 'FR'], [purple, orange])
ax = frame((220.7, 1551, 847.3, 2055.5), (4.6, 6.2), (-500, 3000), 0.2, 1000)
draw(ax, [fe_e1_fr, fe_e1_sr], ['FR', 'SR'], [orange, purple])
ax = frame((1009.5, 1554.3, 1637, 2058.9), (4.6, 6.2), (-500, 3000), 0.2, 1000)
draw(ax, [fe_e1_fr, fe_e1_sr], ['FR', 'SR'], [orange, purple])

# bottom block: optical conductivity
bw = [2.2, 2.2, 2.6]
ax = frame((167.3, 2299.8, 850, 2847.6), (4.0, 7.0), (0, 40), 0.5, 5)
draw(ax, [ni_s1_2k, ni_s1_10k, ni_s1_50k], temps, tcolors, 17, bw)
ax = frame((980.2, 2302.7, 1641.3, 2835.8), (4.0, 7.0), (-30, 20), 0.5, 10)
draw(ax, [ni_s2_2k, ni_s2_10k, ni_s2_50k], temps, tcolors, 17, bw)
ax = frame((173.6, 2924, 822.6, 3445), (4.0, 7.0), (0, 100), 0.5, 20)
draw(ax, [co_s1_2k, co_s1_10k, co_s1_50k], temps, tcolors, 17, bw)
ax = frame((964.6, 2916.8, 1637.6, 3458.5), (4.0, 7.0), (-80, 40), 0.5, 20)
draw(ax, [co_s2_2k, co_s2_10k, co_s2_50k], temps, tcolors, 17, bw)
ax = frame((183.7, 3534, 808.8, 4037.3), (4.0, 7.0), (-0.5, 16), 0.5, 2, fs=18)
draw(ax, [fe_s1_2k, fe_s1_10k, fe_s1_50k], temps, tcolors, 17, bw)
ax = frame((979.7, 3520.4, 1642.3, 4054.3), (4.0, 7.0), (-14, 8), 0.5, 4)
draw(ax, [fe_s2_2k, fe_s2_10k, fe_s2_50k], temps, tcolors, 17, bw)

# compound names
ni = r'Th$_{\mathregular{7}}$Ni$_{\mathregular{3}}$'
co = r'Th$_{\mathregular{7}}$Co$_{\mathregular{3}}$'
fe = r'Th$_{\mathregular{7}}$Fe$_{\mathregular{3}}$'
big = dict(fontsize=50, va='baseline', ha='left')
put(810, 99.5, ni, **big)
put(810, 816.7, co, **big)
put(808, 1512, fe, **big)
put(577, 2747.6, ni, **big)
put(1344, 2747.6, ni, **big)
put(545, 3321, co, **big)
put(1320, 3331.7, co, **big)
put(580, 3918, fe, **big)
put(1344, 3918, fe, **big)

# axis labels
yl = dict(fontsize=23, rotation=90, ha='center', va='center')
put(87, 428, eps1, **yl)
put(903, 390, eps2, **yl)
put(71.5, 1124, eps1, **yl)
put(891.6, 1097, eps2, **yl)
put(119, 1794, eps1, **yl)
put(911, 1801, eps1, **yl)
yb = dict(fontsize=24, rotation=90, ha='center', va='center', family=serif, style='italic', weight='bold')
put(87, 2558, 'σ′(ω)', **yb)
put(890, 2564, 'σ″(ω)', **yb)
put(87, 3176, 'σ′(ω)', **yb)
put(869, 3191, 'σ″(ω)', **yb)
put(103, 3769, 'σ′(ω)', **yb)
put(887, 3780, 'σ″(ω)', **yb)

xl = dict(fontsize=23, ha='center', va='center')
put(503.6, 749, xlab, **xl)
put(1312.8, 734.7, xlab, **xl)
put(505.5, 1459.6, xlab, **xl)
put(1333, 1455, xlab, **xl)
put(525, 2126.8, xlab, **xl)
put(1315, 2129, xlab, **xl)
put(496, 4107.5, xlab, fontsize=22, ha='center', va='center')
put(1282.6, 4128.7, xlab, fontsize=22, ha='center', va='center')

# the source panels were cropped: cover the cut-off parts
fig.add_artist(Rectangle((300 / W, 1 - 1490 / H), 400 / W, 24 / H, transform=fig.transFigure,
                         color='white', zorder=10))
fig.add_artist(Rectangle((830 / W, 1 - 3300 / H), 32 / W, 220 / H, transform=fig.transFigure,
                         color='white', zorder=10))

fig.savefig('out.png', dpi=100)
